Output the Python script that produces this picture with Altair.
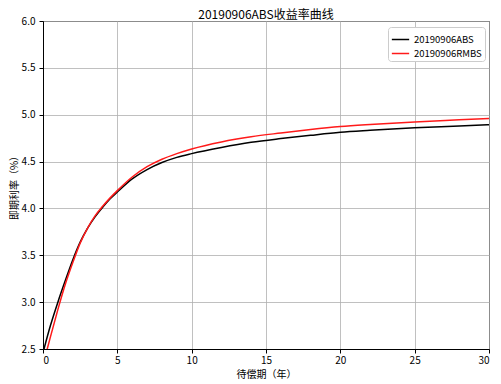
import altair as alt
import pandas as pd

years = [0, 0.5, 1, 1.5, 2, 2.5, 3, 3.5, 4, 4.5, 5, 6, 7, 8, 9, 10, 12, 14, 16, 18, 20, 22, 25, 28, 30]
abs_rates = [2.46, 2.75, 3.00, 3.23, 3.45, 3.64, 3.79, 3.91, 4.01, 4.10, 4.175, 4.315, 4.415, 4.49, 4.545, 4.585,
             4.65, 4.705, 4.745, 4.78, 4.812, 4.833, 4.86, 4.88, 4.894]
rmbs_rates = [2.33, 2.63, 2.92, 3.19, 3.42, 3.63, 3.79, 3.92, 4.02, 4.11, 4.19, 4.335, 4.445, 4.525, 4.585, 4.635,
              4.71, 4.765, 4.805, 4.842, 4.873, 4.895, 4.922, 4.945, 4.96]
series_names = ["20190906ABS", "20190906RMBS"]
series_colors = ["#000000", "#ff1a1a"]

rows = []
for i, y in enumerate(years):
    rows.append({"year": y, "rate": abs_rates[i], "series": series_names[0], "o": 0})
    rows.append({"year": y, "rate": rmbs_rates[i], "series": series_names[1], "o": 1})
df = pd.DataFrame(rows)

font = "Noto Sans CJK SC"

chart = alt.Chart(df).mark_line(clip=True, strokeWidth=1.5, interpolate="monotone").encode(
    x=alt.X("year:Q", title="待偿期（年）",
            scale=alt.Scale(domain=[0, 30], nice=False, zero=False),
            axis=alt.Axis(values=[0, 5, 10, 15, 20, 25, 30], format="d")),
    y=alt.Y("rate:Q", title="即期利率（%）",
            scale=alt.Scale(domain=[2.5, 6.0], nice=False, zero=False),
            axis=alt.Axis(values=[2.5, 3.0, 3.5, 4.0, 4.5, 5.0, 5.5, 6.0], format=".1f")),
    color=alt.Color("series:N", scale=alt.Scale(domain=series_names, range=series_colors),
                    legend=alt.Legend(title=None, orient="none", legendX=345, legendY=6,
                                      symbolType="stroke", symbolStrokeWidth=1.5, symbolSize=300,
                                      labelFontSize=9.5, labelFont=font, fillColor="white",
                                      strokeColor="#cccccc", padding=3, cornerRadius=3,
                                      rowPadding=0, labelLimit=200, labelOffset=4)),
    order="o:Q",
    detail="series:N",
).properties(
    width=446, height=328,
    title=alt.TitleParams("20190906ABS收益率曲线", font=font, fontSize=12, fontWeight="normal",
                          color="black", offset=3, frame="group", anchor="middle", dy=9),
    autosize=alt.AutoSizeParams(type="none"),
    padding={"left": 35, "top": 13, "right": 4, "bottom": 35},
).configure_view(
    stroke="black", strokeWidth=1
).configure_axis(
    labelFont=font, titleFont=font, labelFontSize=10, titleFontSize=10,
    labelColor="black", titleColor="black", titleFontWeight="normal",
    domainColor="black", tickColor="black", tickSize=4,
    gridColor="#b0b0b0", gridWidth=0.8, grid=True
).configure_axisY(
    titlePadding=2, labelPadding=4
).configure_axisX(
    titlePadding=4, labelPadding=2
)

chart.save("out.html", embed_options={"renderer": "svg", "actions": False})
